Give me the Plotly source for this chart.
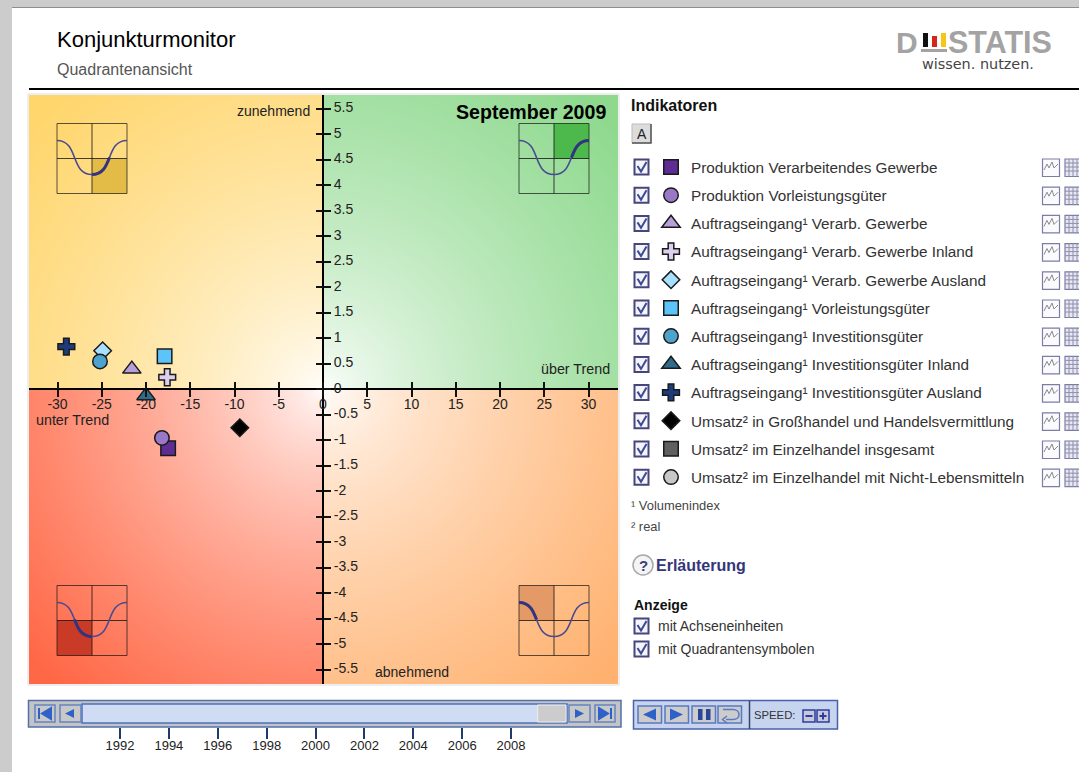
import base64
import struct
import zlib

import numpy as np
import plotly.graph_objects as go

W, H = 1079, 772
FONT = 'Liberation Sans, Arial, sans-serif'

# indicators (the last two have no point in this month)
names = [
    'Produktion Verarbeitendes Gewerbe',
    'Produktion Vorleistungsgüter',
    'Auftragseingang¹ Verarb. Gewerbe',
    'Auftragseingang¹ Verarb. Gewerbe Inland',
    'Auftragseingang¹ Verarb. Gewerbe Ausland',
    'Auftragseingang¹ Vorleistungsgüter',
    'Auftragseingang¹ Investitionsgüter',
    'Auftragseingang¹ Investitionsgüter Inland',
    'Auftragseingang¹ Investitionsgüter Ausland',
    'Umsatz² in Großhandel und Handelsvermittlung',
    'Umsatz² im Einzelhandel insgesamt',
    'Umsatz² im Einzelhandel mit Nicht-Lebensmitteln',
]
trend_x = [-17.5, -18.2, -21.6, -17.6, -24.9, -17.9, -25.2, -20.0, -29.0, -9.4, None, None]
change_y = [-1.16, -0.96, 0.39, 0.23, 0.75, 0.64, 0.54, -0.13, 0.83, -0.76, None, None]
symbols = ['square', 'circle', 'triangle-up', 'cross', 'diamond', 'square',
           'circle', 'triangle-up', 'cross', 'diamond', 'square', 'circle']
colors = ['#5F2C94', '#9A78C8', '#B7A0DA', '#DCD0EE', '#A8E0FF', '#5CC4FA',
          '#4EA2CE', '#2F6C8C', '#1E3C7C', '#000000', '#606060', '#C8C8C8']
symbol_size = {'square': 14.5, 'circle': 14.5, 'triangle-up': 16, 'cross': 14, 'diamond': 13.5}

x_ticks = [-30, -25, -20, -15, -10, -5, 0, 5, 10, 15, 20, 25, 30]
x_labels = ['-30', '-25', '-20', '-15', '-10', '-5', '0', '5', '10', '15', '20', '25', '30']
y_ticks = [5.5, 5, 4.5, 4, 3.5, 3, 2.5, 2, 1.5, 1, 0.5, 0, -0.5, -1, -1.5, -2, -2.5, -3, -3.5, -4, -4.5, -5, -5.5]
y_labels = ['5.5', '5', '4.5', '4', '3.5', '3', '2.5', '2', '1.5', '1', '0.5', '0', '-0.5', '-1', '-1.5',
            '-2', '-2.5', '-3', '-3.5', '-4', '-4.5', '-5', '-5.5']
years = [1992, 1994, 1996, 1998, 2000, 2002, 2004, 2006, 2008]
current_month = 2009.67

# plot box in page pixels
L, R, T, B = 29, 618, 95, 684
X0, Y0 = 323, 389
PX_X, PX_Y = 8.85, 51.0
x_range = [(L - X0) / PX_X, (R - X0) / PX_X]
y_range = [(Y0 - B) / PX_Y, (Y0 - T) / PX_Y]


def quadrant_background():
    # four colour washes fading to white at the crossing
    n = R - L
    px = (np.arange(n) + L + 0.5 - X0) / ((R - L) / 2)
    py = (np.arange(n) + T + 0.5 - Y0) / ((B - T) / 2)
    xx, yy = np.meshgrid(px, py)
    t = np.clip(np.sqrt(xx ** 2 + yy ** 2) / 1.35, 0, 1) ** 0.7
    corner = np.zeros((n, n, 3))
    corner[(xx < 0) & (yy < 0)] = (255, 214, 108)
    corner[(xx >= 0) & (yy < 0)] = (142, 217, 142)
    corner[(xx < 0) & (yy >= 0)] = (255, 104, 70)
    corner[(xx >= 0) & (yy >= 0)] = (255, 178, 112)
    rgb = (255 + (corner - 255) * t[..., None]).astype(np.uint8)
    raw = b''.join(b'\x00' + row.tobytes() for row in rgb)

    def chunk(tag, body):
        return struct.pack('>I', len(body)) + tag + body + struct.pack('>I', zlib.crc32(tag + body))

    png = b'\x89PNG\r\n\x1a\n' + chunk(b'IHDR', struct.pack('>IIBBBBB', n, n, 8, 2, 0, 0, 0)) \
        + chunk(b'IDAT', zlib.compress(raw)) + chunk(b'IEND', b'')
    return 'data:image/png;base64,' + base64.b64encode(png).decode()


shapes = []
notes = []


def rect(x0, y0, x1, y1, fill=None, line=None, lw=1, xref='x5'):
    shapes.append(dict(type='rect', xref=xref, yref='y5', x0=x0, y0=y0, x1=x1, y1=y1,
                       fillcolor=fill or 'rgba(0,0,0,0)', line=dict(color=line or 'rgba(0,0,0,0)', width=lw if line else 0)))


def path(d, line=None, lw=1, fill=None):
    shapes.append(dict(type='path', xref='x5', yref='y5', path=d, fillcolor=fill or 'rgba(0,0,0,0)',
                       line=dict(color=line or 'rgba(0,0,0,0)', width=lw if line else 0)))


def text(x, y, s, size=14, color='#333333', anchor='left', bold=False, family=FONT):
    notes.append(dict(xref='x5', yref='y5', x=x, y=y, text=f'<b>{s}</b>' if bold else s, showarrow=False,
                      xanchor=anchor, yanchor='middle', borderpad=0, borderwidth=0,
                      font=dict(size=size, color=color, family=family)))


def checkbox(x, y):
    rect(x, y - 7.5, x + 14, y + 7.5, '#F4F4FA', '#46467C', 2)
    path(f'M{x + 3},{y - 1} L{x + 6.5},{y + 4.5} L{x + 12},{y - 5}', '#3A4C94', 2)


def half_bezier(p0, p1, p2, p3):
    # split a cubic at its middle
    mid = lambda a, b: ((a[0] + b[0]) / 2, (a[1] + b[1]) / 2)
    a, b, c = mid(p0, p1), mid(p1, p2), mid(p2, p3)
    d, e = mid(a, b), mid(b, c)
    f = mid(d, e)
    return (p0, a, d, f), (f, e, c, p3)


def bezier_d(pts, x, y):
    p = [f'{x + u:.1f},{y + v:.1f}' for u, v in pts]
    return f'M{p[0]} C{p[1]} {p[2]} {p[3]}'


def quadrant_icon(x, y, hx, hy, hfill):
    # x, y top left; hx, hy say which cell is lit
    s, h = 70, 35
    rect(x + hx * h, y + hy * h, x + (hx + 1) * h, y + (hy + 1) * h, hfill)
    rect(x, y, x + s, y + s, None, 'rgba(20,20,20,0.7)', 1)
    path(f'M{x + h},{y} L{x + h},{y + s} M{x},{y + h} L{x + s},{y + h}', 'rgba(20,20,20,0.8)', 1)
    left = ((0, 17), (22, 17), (13, 51), (35, 51))
    right = ((35, 51), (57, 51), (48, 17), (70, 17))
    path(bezier_d(left, x, y), '#4A4A92', 1.6)
    path(bezier_d(right, x, y), '#4A4A92', 1.6)
    cells = {(0, 0): half_bezier(*left)[0], (0, 1): half_bezier(*left)[1],
             (1, 1): half_bezier(*right)[0], (1, 0): half_bezier(*right)[1]}
    path(bezier_d(cells[(hx, hy)], x, y), '#33337E', 3)


# page frame and header
rect(0, 0, W, 7, '#CCCCCC')
rect(0, 0, 12, H, '#CCCCCC')
path(f'M12,7.5 L{W},7.5', '#8E8E8E', 1)
path(f'M29,89 L{W},89', '#000000', 2)
text(57, 39, 'Konjunkturmonitor', 22, '#000000')
text(57, 69, 'Quadrantenansicht', 16, '#555555')

# logo
text(896, 42, 'D', 30, '#A3A3A3', bold=True)
rect(923, 33, 928, 47, '#111111')
rect(932, 36, 937, 47, '#D4261C')
rect(941, 33, 946, 47, '#F5C518')
rect(921, 49, 947, 52, '#A3A3A3')
text(948, 42, 'STATIS', 30.5, '#A3A3A3', bold=True)
text(922, 64, 'wissen. nutzen.', 14.4, '#444444', family='DejaVu Sans')

# plot box and quadrant symbols
rect(L - 1, T - 1, R + 1, B + 1, None, '#DDDDDD', 1)
quadrant_icon(57, 123.5, 1, 1, '#E3BC47')
quadrant_icon(519, 123.5, 1, 0, '#4DB94D')
quadrant_icon(57, 585.5, 0, 1, '#C93B27')
quadrant_icon(519, 585.5, 0, 0, '#E39A66')

text(606, 112, 'September 2009', 19.6, '#000000', 'right', bold=True)
text(310, 111, 'zunehmend', 14, '#222222', 'right')
text(610, 369, 'über Trend', 14.3, '#222222', 'right')
text(36, 420, 'unter Trend', 14.3, '#222222')
text(375, 672, 'abnehmend', 14, '#222222')

# right panel
text(631, 105, 'Indikatoren', 16, '#111111', bold=True)
rect(632, 124, 651, 143, '#DCDCDC', '#BBBBBB', 1)
path('M651,124 L651,143 L632,143', '#555555', 1.5)
text(641.5, 133.5, 'A', 14, '#222222', 'center')

row_y = [167, 195.2, 223.4, 251.6, 279.8, 308, 336.2, 364.4, 392.6, 420.8, 449, 477.2]
for y in row_y:
    checkbox(634.5, y)
    # little chart button, little table button
    rect(1042.5, y - 8, 1059.5, y + 9.5, '#FBFBFF', '#7C7CA4', 1.2)
    path(f'M1044,{y + 3} L1047,{y - 3} L1049,{y + 1} L1052,{y - 5} L1054,{y + 1} L1058,{y - 3}', '#8A8A8A', 1)
    rect(1065, y - 8, 1081, y + 9.5, '#E8E8F2', '#7C7CA4', 1.2)
    path(' '.join(f'M1065,{y + d} L1081,{y + d}' for d in (-4, 0, 4)) + ' '
         + ' '.join(f'M{v},{y - 8} L{v},{y + 9.5}' for v in (1069, 1073, 1077)), '#8E8EAE', 1)

text(631, 505, '¹ Volumenindex', 12.9, '#444444')
text(631, 526, '² real', 12.9, '#444444')

shapes.append(dict(type='circle', xref='x5', yref='y5', x0=633, y0=555, x1=653, y1=575, fillcolor='#F4F4F4',
                   line=dict(color='#A8A8A8', width=1.5)))
text(643, 565, '?', 15, '#3C3C78', 'center', bold=True)
text(656, 565, 'Erläuterung', 16, '#35357A', bold=True)

text(634, 605, 'Anzeige', 14, '#111111', bold=True)
checkbox(634.5, 626)
checkbox(634.5, 649)
text(658, 626, 'mit Achseneinheiten', 14, '#333333')
text(658, 649, 'mit Quadrantensymbolen', 14, '#333333')

# player controls
rect(633.5, 700.5, 837.5, 729, '#C6D4F0', '#4A62A8', 1.5)
path('M749.5,700.5 L749.5,729', '#37466E', 1.5)
for bx in (638, 665, 692, 718):
    rect(bx, 706, bx + 23.5, 723, '#CCCCCC', '#5A78C0', 1.5)
path('M643,714.5 L656,708.5 L656,720.5 Z', fill='#2F62C8')
path('M670,708.5 L683,714.5 L670,720.5 Z', fill='#2F62C8')
rect(698, 709, 702.5, 720, '#27459A')
rect(706, 709, 710.5, 720, '#27459A')
path('M723,709.5 L733,709.5 C741,709.5 741,719.5 733,719.5 L726,719.5 M727,716 L722.5,719.5 L727,723', '#5878C8', 1.5)
text(754, 715, 'SPEED:', 11.3, '#333333')
for bx, sign in ((803, '-'), (817, '+')):
    rect(bx, 710, bx + 12, 722, '#C8C8D8', '#2C3CA0', 1.5)
    path(f'M{bx + 2.5},716 L{bx + 9.5},716' + (f' M{bx + 6},712.5 L{bx + 6},719.5' if sign == '+' else ''), '#2C3CA0', 2)

# time slider
rect(28.5, 700.5, 621, 727, '#C4C4C8', '#5072A8', 1.5)
rect(82, 704, 567, 723, '#CFDCF4', '#4E70B8', 1.5)
shapes.append(dict(type='rect', xref='x2', yref='y5', x0=current_month - 0.58, x1=current_month + 0.58, y0=705, y1=722,
                   fillcolor='#CCCCCC', line=dict(color='#EEEEEE', width=1)))
for bx0, bx1 in ((35, 55), (60, 81), (569, 590), (595, 615)):
    rect(bx0, 705, bx1, 722, '#C8C8C8', '#6484C0', 1.5)
path('M39,708 L39,719 M51,708 L42,713.5 L51,719 Z', '#2F62C8', 2, '#2F62C8')
path('M74,709 L65,713.5 L74,718 Z', fill='#2F62C8')
path('M575,709 L584,713.5 L575,718 Z', fill='#2F62C8')
path('M611,708 L611,719 M599,708 L608,713.5 L599,719 Z', '#2F62C8', 2, '#2F62C8')

fig = go.Figure()

for i, name in enumerate(names):
    fig.add_trace(go.Scatter(
        x=[trend_x[i]], y=[change_y[i]],
        mode='markers',
        name=name,
        legendgroup=name,
        marker=dict(symbol=symbols[i], size=symbol_size[symbols[i]], color=colors[i],
                    line=dict(color='#1A1A1A', width=1.5)),
        hoverinfo='name',
    ))

# helper traces so the extra axes get drawn
for xa, ya in (('x2', 'y2'), ('x3', 'y3'), ('x5', 'y5')):
    fig.add_trace(go.Scatter(x=[None], y=[None], xaxis=xa, yaxis=ya, showlegend=False, hoverinfo='skip'))

tick_font = dict(size=14, color='#222222', family=FONT)
x_dom = [L / W, R / W]
y_dom = [(H - B) / H, (H - T) / H]

fig.update_layout(
    width=W, height=H,
    margin=dict(l=0, r=0, t=0, b=0),
    paper_bgcolor='white',
    plot_bgcolor='rgba(0,0,0,0)',
    font=dict(family=FONT),
    showlegend=True,
    legend=dict(x=651 / W, y=(H - 150.5) / H, xanchor='left', yanchor='top', bgcolor='rgba(0,0,0,0)',
                font=dict(size=15.3, color='#333333', family=FONT), tracegroupgap=5.3, itemclick=False,
                itemdoubleclick=False),
    shapes=shapes,
    annotations=notes,
    images=[dict(source=quadrant_background(), xref='paper', yref='paper', x=L / W, y=(H - T) / H,
                 sizex=(R - L) / W, sizey=(B - T) / H, xanchor='left', yanchor='top',
                 sizing='stretch', layer='below')],
    # zero crossing axes, lower/right half of each tick
    xaxis=dict(domain=x_dom, range=x_range, anchor='free', position=(H - Y0) / H, side='bottom',
               tickvals=x_ticks, ticktext=x_labels, ticks='outside', ticklen=7, tickwidth=1.5, tickcolor='#111111',
               showline=True, linecolor='#000000', linewidth=2, showgrid=False, zeroline=False,
               tickfont=tick_font, ticklabelstandoff=-5),
    yaxis=dict(domain=y_dom, range=y_range, anchor='free', position=X0 / W, side='right',
               tickvals=y_ticks, ticktext=y_labels, ticks='outside', ticklen=7, tickwidth=1.5, tickcolor='#111111',
               showline=True, linecolor='#000000', linewidth=2, showgrid=False, zeroline=False,
               tickfont=tick_font, ticklabelshift=-1, ticklabelstandoff=0),
    # other half of each tick
    xaxis3=dict(domain=x_dom, range=x_range, anchor='free', position=(H - Y0) / H, overlaying='x', side='bottom',
                tickvals=x_ticks, ticks='inside', ticklen=7, tickwidth=1.5, tickcolor='#111111',
                showticklabels=False, showgrid=False, zeroline=False),
    yaxis3=dict(domain=y_dom, range=y_range, anchor='free', position=X0 / W, overlaying='y', side='right',
                tickvals=y_ticks, ticks='inside', ticklen=7, tickwidth=1.5, tickcolor='#111111',
                showticklabels=False, showgrid=False, zeroline=False),
    # year scale under the slider
    xaxis2=dict(domain=[82 / W, 567 / W], range=[1992 - 38 / 24.44, 1992 + 447 / 24.44], anchor='y2',
                tickvals=years, ticks='outside', ticklen=11, tickwidth=2, tickcolor='#1F3A6E',
                showline=False, showgrid=False, zeroline=False, ticklabelstandoff=-5,
                tickfont=dict(size=13, color='#222222', family=FONT)),
    yaxis2=dict(domain=[(H - 727) / H, (H - 700) / H], range=[0, 1], anchor='x2', visible=False),
    # page pixel axes for the surrounding panel
    xaxis5=dict(domain=[0, 1], range=[0, W], anchor='y5', visible=False),
    yaxis5=dict(domain=[0, 1], range=[H, 0], anchor='x5', visible=False),
)

fig.write_html('out.html', config=dict(displayModeBar=False),
               post_script="document.body.style.margin='0';document.body.style.overflow='hidden';")
